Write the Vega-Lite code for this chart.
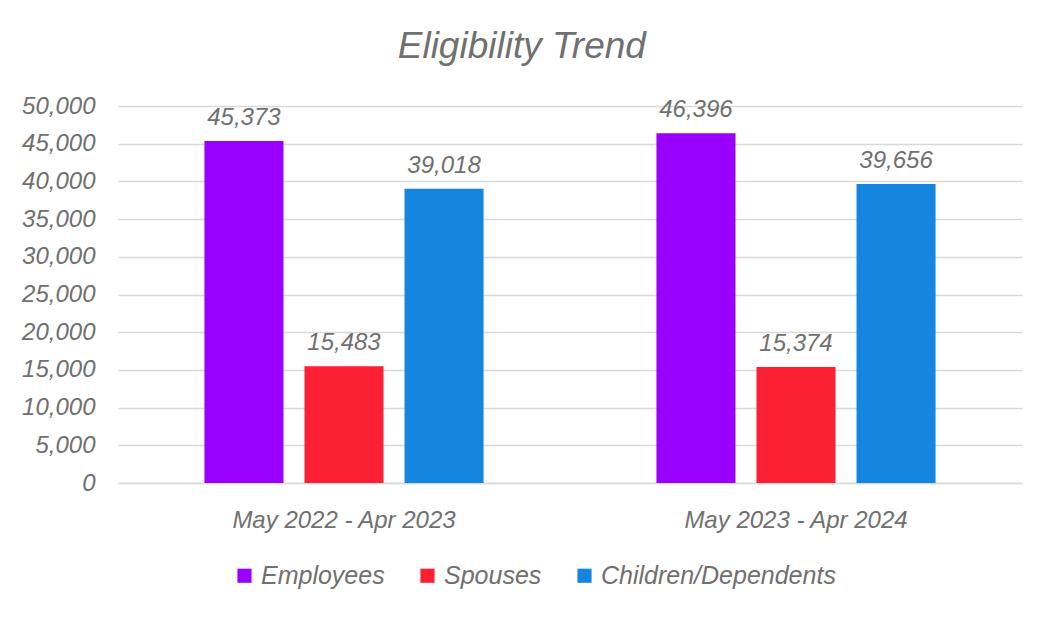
{
  "$schema": "https://vega.github.io/schema/vega-lite/v6.json",
  "width": 904,
  "height": 377,
  "padding": {"left": 21, "top": 28, "right": 26, "bottom": 10},
  "background": "white",
  "title": {
    "text": "Eligibility Trend",
    "font": "Liberation Sans",
    "fontStyle": "italic",
    "fontWeight": "normal",
    "fontSize": 37,
    "color": "#707070",
    "offset": 28,
    "anchor": "middle",
    "frame": "bounds"
  },
  "data": {
    "values": [
      {"period": "May 2022 - Apr 2023", "group": "Employees", "count": 45373},
      {"period": "May 2022 - Apr 2023", "group": "Spouses", "count": 15483},
      {"period": "May 2022 - Apr 2023", "group": "Children/Dependents", "count": 39018},
      {"period": "May 2023 - Apr 2024", "group": "Employees", "count": 46396},
      {"period": "May 2023 - Apr 2024", "group": "Spouses", "count": 15374},
      {"period": "May 2023 - Apr 2024", "group": "Children/Dependents", "count": 39656}
    ]
  },
  "encoding": {
    "x": {
      "field": "period",
      "type": "nominal",
      "scale": {"paddingInner": 0.336, "paddingOuter": 0.168},
      "axis": {
        "title": null,
        "labelAngle": 0,
        "labelFont": "Liberation Sans",
        "labelFontStyle": "italic",
        "labelFontSize": 24,
        "labelColor": "#707070",
        "labelPadding": 25,
        "labelLimit": 0,
        "ticks": false,
        "domain": true,
        "domainColor": "#D9D9D9",
        "domainWidth": 1.5,
        "grid": false
      }
    },
    "xOffset": {
      "field": "group",
      "type": "nominal",
      "sort": ["Employees", "Spouses", "Children/Dependents"],
      "scale": {"paddingInner": 0.21, "paddingOuter": 0.105}
    },
    "y": {
      "field": "count",
      "type": "quantitative",
      "scale": {"domain": [0, 50000], "nice": false},
      "axis": {
        "title": null,
        "values": [0, 5000, 10000, 15000, 20000, 25000, 30000, 35000, 40000, 45000, 50000],
        "format": ",.0f",
        "labelOverlap": false,
        "labelFont": "Liberation Sans",
        "labelFontStyle": "italic",
        "labelFontSize": 24,
        "labelColor": "#707070",
        "labelPadding": 23,
        "ticks": false,
        "domain": false,
        "grid": true,
        "gridColor": "#D9D9D9",
        "gridWidth": 1.5
      }
    }
  },
  "layer": [
    {
      "mark": {"type": "bar"},
      "encoding": {
        "color": {
          "field": "group",
          "type": "nominal",
          "sort": ["Employees", "Spouses", "Children/Dependents"],
          "scale": {
            "domain": ["Employees", "Spouses", "Children/Dependents"],
            "range": ["#9900FF", "#FB2034", "#1486E0"]
          },
          "legend": {
            "title": null,
            "orient": "none",
            "legendX": 114,
            "legendY": 457,
            "direction": "horizontal",
            "symbolType": "square",
            "symbolSize": 200,
            "symbolStrokeWidth": 0,
            "labelFont": "Liberation Sans",
            "labelFontStyle": "italic",
            "labelFontSize": 25,
            "labelColor": "#707070",
            "labelLimit": 0,
            "columnPadding": 30
          }
        }
      }
    },
    {
      "mark": {
        "type": "text",
        "dy": -23,
        "font": "Liberation Sans",
        "fontStyle": "italic",
        "fontSize": 24,
        "color": "#707070"
      },
      "encoding": {
        "text": {"field": "count", "type": "quantitative", "format": ",.0f"}
      }
    }
  ],
  "config": {
    "view": {"stroke": null}
  }
}
